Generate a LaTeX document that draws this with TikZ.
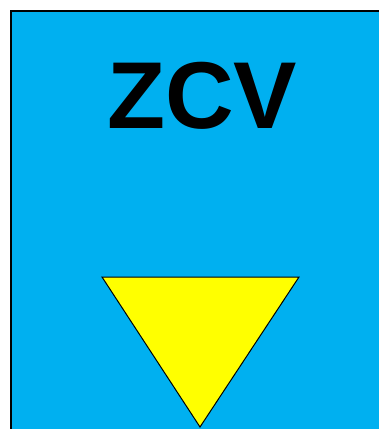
\documentclass[tikz,border=0pt]{standalone}
\usepackage{fontspec}
\setmainfont{Liberation Sans}
\definecolor{zcvblue}{HTML}{00B0F0}
\definecolor{zcvyellow}{HTML}{FFFF00}
\begin{document}
\begin{tikzpicture} [x = 1pt, y = -1pt]
	\useasboundingbox (0,0) rectangle (379,429);
	\clip (0,0) rectangle (379,429);
	\draw [line width = 1.5pt, fill = zcvblue] (11,11) rectangle (392,442);
	%\draw (202,90) node {ZCV};
	\node (zcv) [anchor = base, inner sep = 0pt, font = \fontsize{95}{95}\selectfont\bfseries] at (202,128) {ZCV};
	\draw [line width = 1pt, fill = zcvyellow] (102,277) -- (299,277) -- (200,427) -- cycle;
\end{tikzpicture}
\end{document}
